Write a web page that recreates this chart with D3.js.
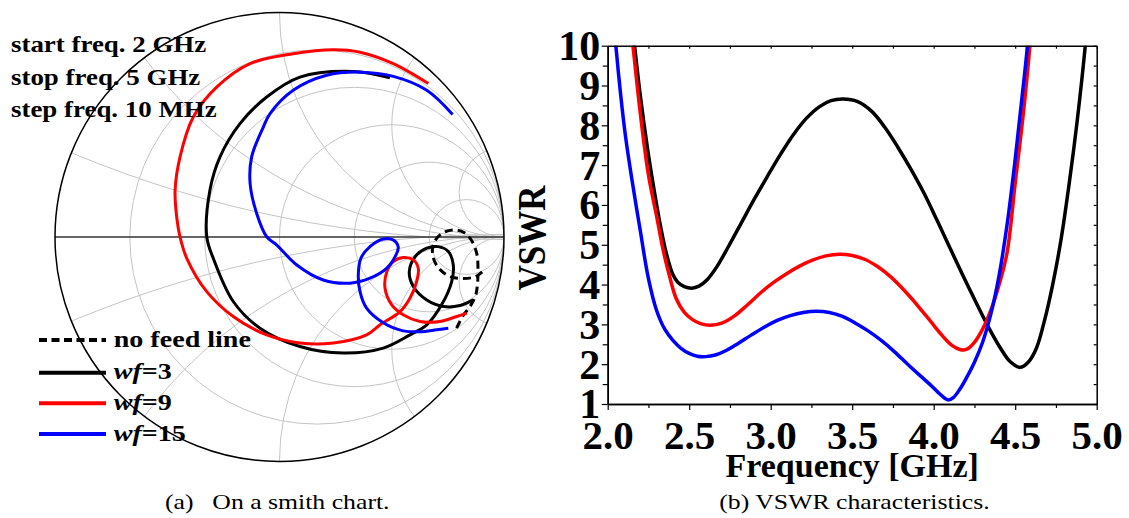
<!DOCTYPE html>
<html lang="en">
<head>
<meta charset="UTF-8" />
<title>Smith chart and VSWR</title>
<script src="https://cdn.jsdelivr.net/npm/d3@7"></script>
<style>
  body { margin: 0; background: #fff; }
  svg { display: block; font-family: "Liberation Serif", "Times New Roman", serif; }
</style>
</head>
<body>
<div id="chart"></div>
<script>
// ---- data ----
const freqTicks = [2.0, 2.5, 3.0, 3.5, 4.0, 4.5, 5.0];
const freqMinor = [2.25, 2.75, 3.25, 3.75, 4.25, 4.75];
const vswrTicks = [1, 2, 3, 4, 5, 6, 7, 8, 9, 10];
const vswrMinor = [1.5, 2.5, 3.5, 4.5, 5.5, 6.5, 7.5, 8.5, 9.5];

const smithR = [0.2, 0.5, 1, 2, 5];
const smithX = [0.2, 0.5, 1, 2, 5];

const noteLines = ["start freq. 2 GHz", "stop freq. 5 GHz", "step freq. 10 MHz"];
const legendNames = ["no feed line", "3", "9", "15"];
const colors = ["#000", "#000", "#ff0000", "#0000ff"];

// reflection coefficient [re, im] along each trace
const gNoFeed = [[0.789,-0.407],[0.817,-0.352],[0.849,-0.310],[0.873,-0.263],[0.882,-0.209],[0.884,-0.147],
  [0.880,-0.080],[0.857,-0.018],[0.822,0.020],[0.773,0.031],[0.719,0.013],[0.684,-0.036],[0.688,-0.102],
  [0.719,-0.149],[0.764,-0.178],[0.817,-0.185],[0.875,-0.176],[0.920,-0.138]];
const gWf3 = [[0.492,0.711],[0.329,0.739],[0.091,0.714],[-0.057,0.625],[-0.176,0.506],[-0.265,0.358],
  [-0.310,0.209],[-0.324,0.001],[-0.295,-0.095],[-0.206,-0.288],[-0.087,-0.407],[0.091,-0.489],[0.284,-0.518],
  [0.462,-0.496],[0.581,-0.437],[0.656,-0.392],[0.722,-0.303],[0.767,-0.199],[0.774,-0.125],[0.752,-0.065],
  [0.707,-0.043],[0.656,-0.050],[0.604,-0.088],[0.578,-0.155],[0.596,-0.221],[0.656,-0.281],[0.730,-0.310],
  [0.804,-0.306],[0.863,-0.281]];
const gWf9 = [[0.663,0.685],[0.507,0.774],[0.359,0.825],[0.240,0.836],[0.061,0.818],[-0.131,0.774],
  [-0.280,0.669],[-0.384,0.536],[-0.443,0.358],[-0.465,0.209],[-0.458,0.090],[-0.443,0.0],[-0.413,-0.095],
  [-0.324,-0.244],[-0.206,-0.355],[-0.057,-0.437],[0.091,-0.473],[0.240,-0.473],[0.388,-0.437],[0.448,-0.392],
  [0.537,-0.333],[0.581,-0.273],[0.611,-0.199],[0.618,-0.139],[0.596,-0.102],[0.551,-0.092],[0.507,-0.110],
  [0.478,-0.155],[0.470,-0.229],[0.500,-0.303],[0.551,-0.347],[0.626,-0.377],[0.715,-0.377],[0.789,-0.355],
  [0.834,-0.340]];
const gWf15 = [[0.771,0.547],[0.656,0.655],[0.507,0.717],[0.359,0.736],[0.210,0.722],[0.061,0.655],
  [-0.042,0.551],[-0.072,0.491],[-0.124,0.358],[-0.131,0.239],[-0.102,0.106],[-0.057,0.001],[-0.012,-0.036],
  [0.077,-0.125],[0.195,-0.192],[0.314,-0.206],[0.403,-0.184],[0.478,-0.139],[0.519,-0.080],[0.529,-0.045],
  [0.506,-0.013],[0.462,-0.009],[0.403,-0.043],[0.363,-0.094],[0.351,-0.169],[0.359,-0.245],[0.388,-0.318],
  [0.462,-0.383],[0.551,-0.419],[0.626,-0.423],[0.700,-0.414],[0.752,-0.407]];

// VSWR [GHz, value]
const vWf3 = [[2.135,11.2],[2.165,10],[2.20,8.75],[2.245,7.4],[2.29,6.25],[2.325,5.45],[2.36,4.78],[2.40,4.25],
  [2.43,4.06],[2.47,3.95],[2.515,3.91],[2.56,3.96],[2.61,4.12],[2.67,4.45],[2.74,4.95],[2.82,5.55],[2.9,6.15],
  [2.98,6.72],[3.06,7.27],[3.14,7.77],[3.22,8.18],[3.3,8.47],[3.37,8.62],[3.445,8.66],[3.53,8.6],[3.62,8.35],
  [3.7,7.95],[3.78,7.45],[3.86,6.9],[3.94,6.3],[4.02,5.62],[4.1,4.92],[4.18,4.22],[4.26,3.55],[4.34,2.9],
  [4.41,2.4],[4.47,2.06],[4.53,1.92],[4.58,2.05],[4.63,2.4],[4.68,3.1],[4.73,4.0],[4.78,5.1],[4.83,6.5],
  [4.88,8.1],[4.93,10],[4.955,11.2]];
const vWf9 = [[2.125,11.2],[2.155,10],[2.2,8.3],[2.25,6.75],[2.3,5.72],[2.34,4.87],[2.38,4.2],[2.42,3.65],
  [2.47,3.3],[2.52,3.12],[2.57,3.02],[2.63,2.98],[2.7,3.03],[2.78,3.22],[2.86,3.5],[2.94,3.8],[3.02,4.06],
  [3.1,4.28],[3.18,4.47],[3.26,4.62],[3.34,4.72],[3.42,4.76],[3.5,4.73],[3.58,4.63],[3.66,4.44],[3.74,4.18],
  [3.82,3.85],[3.9,3.48],[3.98,3.08],[4.05,2.73],[4.11,2.48],[4.16,2.37],[4.2,2.37],[4.25,2.55],[4.3,2.88],
  [4.35,3.35],[4.4,3.98],[4.45,4.8],[4.5,6.55],[4.55,8.3],[4.59,10],[4.61,11.2]];
const vWf15 = [[2.03,11],[2.05,10],[2.08,8.75],[2.11,7.7],[2.15,6.6],[2.2,5.35],[2.25,4.15],[2.3,3.35],
  [2.35,2.88],[2.4,2.6],[2.45,2.4],[2.5,2.27],[2.55,2.2],[2.6,2.19],[2.66,2.23],[2.73,2.35],[2.8,2.52],
  [2.88,2.73],[2.96,2.93],[3.04,3.1],[3.12,3.22],[3.2,3.3],[3.28,3.33],[3.36,3.3],[3.44,3.2],[3.52,3.03],
  [3.6,2.83],[3.68,2.59],[3.76,2.31],[3.84,2.0],[3.92,1.7],[3.98,1.48],[4.03,1.28],[4.07,1.14],[4.09,1.10],
  [4.12,1.16],[4.16,1.37],[4.2,1.65],[4.25,2.05],[4.3,2.55],[4.35,3.25],[4.4,4.2],[4.45,5.5],[4.5,7.15],
  [4.54,8.64],[4.575,10],[4.59,11]];

// ---- layout ----
const width = 1129, height = 518;
const stretch = 1.17; // text in the figure is a bit wider than Times

const svg = d3.select("#chart").append("svg")
  .attr("width", width).attr("height", height);
svg.append("rect").attr("width", width).attr("height", height).attr("fill", "#fff");

function wideText(parent, x, y, opts) {
  const g = parent.append("g")
    .attr("transform", `translate(${x},${y}) scale(${opts.k || stretch},1)` + (opts.rotate ? ` rotate(${opts.rotate})` : ""));
  return g.append("text")
    .attr("font-size", opts.size)
    .attr("font-weight", opts.weight || "bold")
    .attr("text-anchor", opts.anchor || "start");
}

// ================= smith chart =================
const gx = d3.scaleLinear().domain([-1, 1]).range([55, 504]);
const gy = d3.scaleLinear().domain([-1, 1]).range([461, 13]);
const unit = gx(1) - gx(0);

const smith = svg.append("g");
smith.append("clipPath").attr("id", "disk")
  .append("circle").attr("cx", gx(0)).attr("cy", gy(0)).attr("r", unit);

const grid = smith.append("g").attr("clip-path", "url(#disk)")
  .attr("fill", "none").attr("stroke", "#c4c4c4").attr("stroke-width", 1);

grid.selectAll(".rc").data(smithR).join("circle")
  .attr("cx", r => gx(r / (1 + r)))
  .attr("cy", gy(0))
  .attr("r", r => unit / (1 + r));

const arcs = smithX.flatMap(x => [x, -x]);
grid.selectAll(".xc").data(arcs).join("circle")
  .attr("cx", gx(1))
  .attr("cy", x => gy(1 / x))
  .attr("r", x => unit / Math.abs(x));

smith.append("line")
  .attr("x1", gx(-1)).attr("x2", gx(1))
  .attr("y1", gy(0)).attr("y2", gy(0))
  .attr("stroke", "#333").attr("stroke-width", 1.5);

smith.append("circle")
  .attr("cx", gx(0)).attr("cy", gy(0)).attr("r", unit)
  .attr("fill", "none").attr("stroke", "#000").attr("stroke-width", 1.5);

const smithLine = d3.line()
  .x(d => gx(d[0])).y(d => gy(d[1]))
  .curve(d3.curveCatmullRom.alpha(0.5));

const traces = [gNoFeed, gWf3, gWf9, gWf15];
smith.selectAll(".trace").data(traces).join("path")
  .attr("d", smithLine)
  .attr("fill", "none")
  .attr("stroke", (d, i) => colors[i])
  .attr("stroke-width", 3)
  .attr("stroke-dasharray", (d, i) => (i === 0 ? "8,5" : null))
  .attr("stroke-linecap", "butt");

// sweep notes
noteLines.forEach((t, i) => {
  wideText(svg, 11, 52 + i * 32.5, { size: 23 }).text(t);
});

// legend
const legendY = [340, 372.7, 403.3, 434];
legendNames.forEach((name, i) => {
  svg.append("line")
    .attr("x1", 39).attr("x2", 106)
    .attr("y1", legendY[i]).attr("y2", legendY[i])
    .attr("stroke", colors[i]).attr("stroke-width", 4)
    .attr("stroke-dasharray", i === 0 ? "8,4.5" : null);
  const t = wideText(svg, 113.7, legendY[i] + 6.7, { size: 24 });
  if (i === 0) {
    t.text(name);
  } else {
    t.append("tspan").attr("font-style", "italic").text("wf");
    t.append("tspan").text("=" + name);
  }
});

wideText(svg, 165, 509, { size: 22, weight: "normal" }).text("(a)");
wideText(svg, 212.3, 509, { size: 22, weight: "normal" }).text("On a smith chart.");

// ================= VSWR plot =================
const x = d3.scaleLinear().domain([2, 5]).range([607.7, 1096.7]);
const y = d3.scaleLinear().domain([1, 10]).range([404, 45.7]);

const plot = svg.append("g");
plot.append("clipPath").attr("id", "box")
  .append("rect")
  .attr("x", x(2)).attr("y", y(10))
  .attr("width", x(5) - x(2)).attr("height", y(1) - y(10));

const vLine = d3.line()
  .x(d => x(d[0])).y(d => y(d[1]))
  .curve(d3.curveCatmullRom.alpha(0.5));

plot.append("g").attr("clip-path", "url(#box)")
  .selectAll("path").data([vWf3, vWf9, vWf15]).join("path")
  .attr("d", vLine)
  .attr("fill", "none")
  .attr("stroke", (d, i) => colors[i + 1])
  .attr("stroke-width", 3.5);

function styleAxis(g) {
  g.select(".domain").attr("stroke", "#000").attr("stroke-width", 1.5);
  g.selectAll(".tick line").attr("stroke", "#000").attr("stroke-width", 1.2);
}

// bottom
plot.append("g").attr("transform", `translate(0,${y(1)})`)
  .call(d3.axisBottom(x).tickValues(freqMinor).tickFormat("").tickSize(4).tickSizeOuter(0))
  .call(styleAxis);
const xAxis = plot.append("g").attr("transform", `translate(0,${y(1)})`)
  .call(d3.axisBottom(x).tickValues(freqTicks).tickFormat(d3.format(".1f")).tickSize(6).tickSizeOuter(0))
  .call(styleAxis);
xAxis.selectAll("text")
  .attr("y", 45).attr("dy", 0)
  .attr("font-family", "Liberation Serif, Times New Roman, serif")
  .attr("font-size", 41).attr("font-weight", "bold").attr("fill", "#000");

// left
plot.append("g").attr("transform", `translate(${x(2)},0)`)
  .call(d3.axisLeft(y).tickValues(vswrMinor).tickFormat("").tickSize(5).tickSizeOuter(0))
  .call(styleAxis);
const yAxis = plot.append("g").attr("transform", `translate(${x(2)},0)`)
  .call(d3.axisLeft(y).tickValues(vswrTicks).tickSize(6).tickSizeOuter(0))
  .call(styleAxis);
yAxis.selectAll("text")
  .attr("x", -7.5).attr("dy", "0.33em")
  .attr("font-family", "Liberation Serif, Times New Roman, serif")
  .attr("font-size", 42).attr("font-weight", "bold").attr("fill", "#000");

// top and right mirror
plot.append("g").attr("transform", `translate(0,${y(10)})`)
  .call(d3.axisBottom(x).tickValues(freqTicks.concat(freqMinor)).tickFormat("").tickSize(3).tickSizeOuter(0))
  .call(styleAxis);
plot.append("g").attr("transform", `translate(${x(5)},0)`)
  .call(d3.axisLeft(y).tickValues(vswrTicks.concat(vswrMinor)).tickFormat("").tickSize(3).tickSizeOuter(0))
  .call(styleAxis);

svg.append("text")
  .attr("x", (x(2) + x(5)) / 2).attr("y", 476.7)
  .attr("text-anchor", "middle")
  .attr("font-size", 34).attr("font-weight", "bold")
  .text("Frequency [GHz]");

wideText(svg, 545, 238, { size: 35, anchor: "middle", rotate: -90 }).text("VSWR");

wideText(svg, 719.3, 509, { size: 22, weight: "normal" }).text("(b) VSWR characteristics.");
</script>
</body>
</html>
